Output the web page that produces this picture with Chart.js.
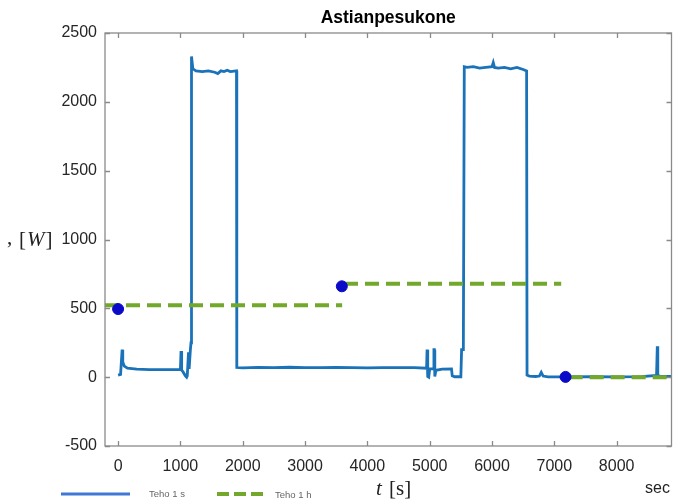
<!DOCTYPE html>
<html>
<head>
<meta charset="utf-8">
<script src="https://cdn.jsdelivr.net/npm/chart.js@4/dist/chart.umd.min.js"></script>
<style>
  html, body { margin: 0; padding: 0; background: #fff; }
  #wrap { width: 678px; height: 502px; }
</style>
</head>
<body>
<div id="wrap"><canvas id="c" width="678" height="502"></canvas></div>
<script>
// ---- data ----
const chartTitle = "Astianpesukone";
const xTickValues = [0, 1000, 2000, 3000, 4000, 5000, 6000, 7000, 8000];
const yTickValues = [-500, 0, 500, 1000, 1500, 2000, 2500];

// Teho 1 s (power, 1-second resolution)
const blueT = [0, 40, 65, 75, 100, 150, 300, 500, 700, 1000, 1010, 1020, 1040, 1080, 1100, 1110, 1130, 1140, 1160, 1170, 1178,
  1200, 1250, 1350, 1450, 1550, 1600, 1650, 1700, 1750, 1800, 1900, 1905,
  2000, 2250, 2500, 2750, 3000, 3250, 3500, 3750, 4000, 4250, 4500, 4750, 4950,
  4958, 4965, 4972, 4985, 5000, 5060, 5068, 5075, 5082, 5100, 5200, 5350, 5362, 5400, 5500, 5512, 5540, 5555,
  5600, 5700, 5800, 5900, 6000, 6020, 6040, 6100, 6200, 6300, 6400, 6500, 6555, 6562,
  6600, 6700, 6760, 6790, 6820, 6900, 7200, 7600, 8000, 8400, 8640, 8652, 8660, 8700, 8880];
const blueW = [15, 20, 200, 110, 80, 65, 58, 55, 55, 55, 190, 50, 40, 10, 0, 10, 180, 60, 200, 250, 2330,
  2240, 2225, 2220, 2225, 2215, 2205, 2225, 2220, 2230, 2220, 2225, 70,
  68, 71, 69, 72, 70, 69, 71, 70, 68, 70, 69, 70, 65,
  200, 200, 5, 0, 60, 62, 200, 200, 5, 50, 58, 60, 10, 3, 3, 200, 200, 2255,
  2250, 2255, 2245, 2250, 2255, 2285, 2250, 2245, 2250, 2240, 2250, 2235, 2225, 15,
  8, 5, 8, 35, 8, 2, 2, 3, 2, 4, 12, 225, 15, 5, 5];

// Teho 1 h (hourly average), one segment per hour
const hourStart = [-210, 3625, 7230];
const hourEnd = [3595, 7110, 8880];
const hourW = [522, 678, 0];

// hourly markers
const dotT = [0, 3590, 7180];
const dotW = [495, 660, 2];

const seriesLabels = ["Teho 1 s", "Teho 1 h"];

// ---- build datasets ----
const blueData = blueT.map((t, i) => ({ x: t, y: blueW[i] }));
const greenData = [];
hourStart.forEach((s, i) => {
  greenData.push({ x: s, y: hourW[i] });
  greenData.push({ x: hourEnd[i], y: hourW[i] });
  if (i < hourStart.length - 1) greenData.push({ x: (hourEnd[i] + hourStart[i + 1]) / 2, y: null });
});
const dotData = dotT.map((t, i) => ({ x: t, y: dotW[i] }));

const BLUE = "#1a72b9";
const GREEN = "#72a92c";

const decor = {
  id: "decor",
  afterDraw(chart) {
    const ctx = chart.ctx;
    const a = chart.chartArea;
    const xs = chart.scales.x, ys = chart.scales.y;
    ctx.save();
    // box
    ctx.strokeStyle = "#8a8a8a";
    ctx.lineWidth = 1.3;
    ctx.strokeRect(a.left, a.top, a.right - a.left, a.bottom - a.top);
    // inward ticks
    ctx.beginPath();
    xTickValues.forEach(v => {
      const px = Math.round(xs.getPixelForValue(v)) + 0.5;
      ctx.moveTo(px, a.bottom); ctx.lineTo(px, a.bottom - 5);
      ctx.moveTo(px, a.top); ctx.lineTo(px, a.top + 5);
    });
    yTickValues.forEach(v => {
      const py = Math.round(ys.getPixelForValue(v)) + 0.5;
      ctx.moveTo(a.left, py); ctx.lineTo(a.left + 5, py);
      ctx.moveTo(a.right, py); ctx.lineTo(a.right - 5, py);
    });
    ctx.stroke();

    // x axis label: t [s]
    ctx.fillStyle = "#222";
    ctx.textBaseline = "middle";
    ctx.textAlign = "left";
    ctx.font = "italic 21px 'Liberation Serif'";
    let x0 = 376;
    ctx.fillText("t", x0, 489);
    let w = ctx.measureText("t ").width;
    ctx.font = "21px 'Liberation Serif'";
    ctx.fillText("[s]", x0 + w + 2, 489);

    // y axis label: [W]
    ctx.font = "21px 'Liberation Serif'";
    ctx.fillText(",", 7, 238);
    let yx = 19;
    ctx.fillText("[", yx, 240);
    yx += ctx.measureText("[").width + 1;
    ctx.font = "italic 21px 'Liberation Serif'";
    ctx.fillText("W", yx, 240);
    yx += ctx.measureText("W").width + 1;
    ctx.font = "21px 'Liberation Serif'";
    ctx.fillText("]", yx, 240);

    // "sec"
    ctx.font = "16px 'Liberation Sans'";
    ctx.fillStyle = "#222";
    ctx.fillText("sec", 645, 489);

    // legend
    ctx.strokeStyle = "#3f78d6";
    ctx.lineWidth = 3;
    ctx.setLineDash([]);
    ctx.beginPath(); ctx.moveTo(61, 494); ctx.lineTo(130, 494); ctx.stroke();
    ctx.strokeStyle = GREEN;
    ctx.lineWidth = 4;
    ctx.setLineDash([12, 5]);
    ctx.beginPath(); ctx.moveTo(217, 494); ctx.lineTo(265, 494); ctx.stroke();
    ctx.setLineDash([]);
    ctx.fillStyle = "#666";
    ctx.font = "9.5px 'Liberation Sans'";
    ctx.fillText(seriesLabels[0], 149, 494);
    ctx.fillText(seriesLabels[1], 275, 495);
    ctx.restore();
  }
};

new Chart(document.getElementById("c"), {
  type: "line",
  data: {
    datasets: [
      { label: seriesLabels[0], data: blueData, borderColor: BLUE, borderWidth: 2.8, pointRadius: 0, tension: 0, fill: false, order: 3 },
      { label: seriesLabels[1], data: greenData, borderColor: GREEN, borderWidth: 4, borderDash: [14, 7], pointRadius: 0, tension: 0, spanGaps: false, fill: false, order: 2 },
      { label: "hourly", data: dotData, showLine: false, pointRadius: 5.5, pointBackgroundColor: "#0a0ac8", pointBorderColor: "#0a0ac8", borderColor: "#0a0ac8", order: 1 }
    ]
  },
  options: {
    responsive: false,
    animation: false,
    parsing: true,
    layout: { padding: { left: 0, right: 5, top: 0, bottom: 0 } },
    plugins: {
      legend: { display: false },
      tooltip: { enabled: false },
      title: {
        display: true,
        text: chartTitle,
        fullSize: false,
        color: "#000",
        font: { family: "'Liberation Sans'", size: 17.5, weight: "bold" },
        padding: { top: 8, bottom: 4 }
      }
    },
    scales: {
      x: {
        type: "linear",
        min: -210,
        max: 8880,
        afterBuildTicks: s => { s.ticks = xTickValues.map(v => ({ value: v })); },
        afterFit: s => { s.height = 56; },
        grid: { display: true, drawOnChartArea: false, drawTicks: false, color: "rgba(0,0,0,0)" },
        border: { display: false },
        ticks: { padding: 11, color: "#262626", font: { family: "'Liberation Sans'", size: 16 }, maxRotation: 0, autoSkip: false, callback: v => String(v) }
      },
      y: {
        type: "linear",
        min: -500,
        max: 2500,
        afterBuildTicks: s => { s.ticks = yTickValues.map(v => ({ value: v })); },
        afterFit: s => { s.width = 105; },
        grid: { display: true, drawOnChartArea: false, drawTicks: false, color: "rgba(0,0,0,0)" },
        border: { display: false },
        ticks: { padding: 8, color: "#262626", font: { family: "'Liberation Sans'", size: 16 }, autoSkip: false, callback: v => String(v) }
      }
    }
  },
  plugins: [decor]
});
</script>
</body>
</html>
